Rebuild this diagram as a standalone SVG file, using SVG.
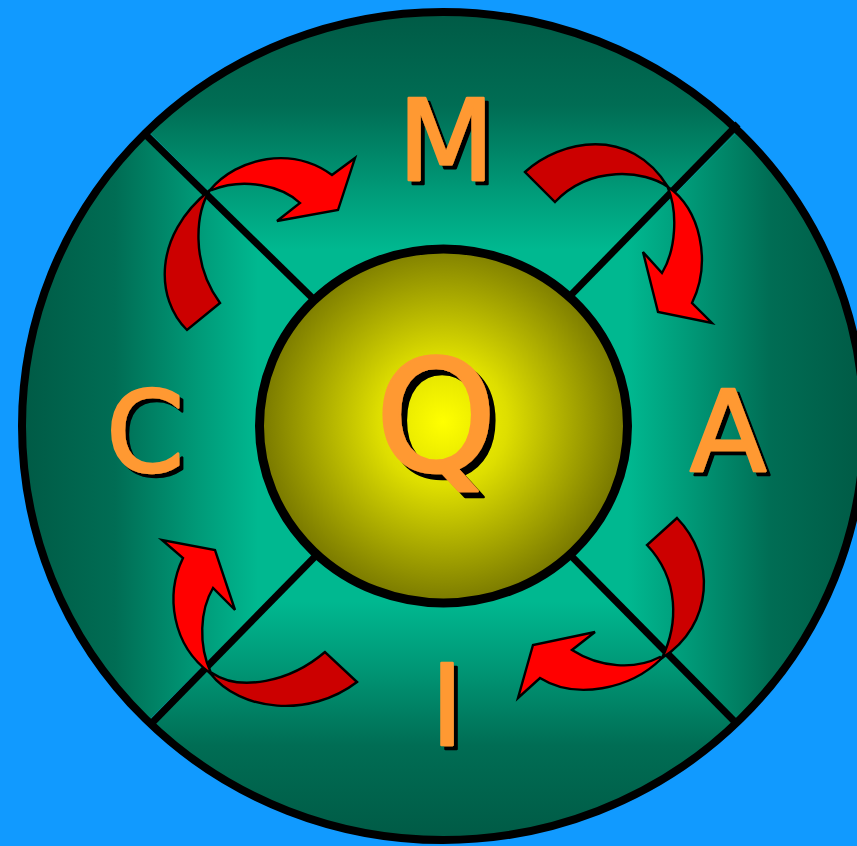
<svg xmlns="http://www.w3.org/2000/svg" width="857" height="846" viewBox="0 0 857 846">
<defs>
<style>
.lt{font-family:"DejaVu Sans",Verdana,sans-serif;font-size:112px;text-anchor:middle;stroke-linejoin:round;stroke-width:2.5;fill:#ff9933;stroke:#ff9933}
.ar{stroke:#000;stroke-width:2.4;stroke-linejoin:miter}
.dk{fill:#cc0000}
.br{fill:#ff0000}
.dv{stroke:#000;stroke-width:7;fill:none}
</style>
<filter id="sh4" x="-20%" y="-20%" width="140%" height="140%">
<feOffset in="SourceAlpha" dx="4" dy="4" result="o"/>
<feMerge><feMergeNode in="o"/><feMergeNode in="SourceGraphic"/></feMerge>
</filter>
<filter id="sh6" x="-20%" y="-20%" width="140%" height="140%">
<feOffset in="SourceAlpha" dx="6" dy="6" result="o"/>
<feMerge><feMergeNode in="o"/><feMergeNode in="SourceGraphic"/></feMerge>
</filter>
<clipPath id="ringClip"><ellipse cx="443" cy="426" rx="421" ry="414"/></clipPath>
<linearGradient id="gT" gradientUnits="userSpaceOnUse" x1="0" y1="10" x2="0" y2="250">
<stop offset="0" stop-color="#005a45"/><stop offset="0.4" stop-color="#006d54"/><stop offset="0.75" stop-color="#009a78"/><stop offset="1" stop-color="#00b890"/>
</linearGradient>
<linearGradient id="gB" gradientUnits="userSpaceOnUse" x1="0" y1="842" x2="0" y2="602">
<stop offset="0" stop-color="#005a45"/><stop offset="0.4" stop-color="#006d54"/><stop offset="0.75" stop-color="#009a78"/><stop offset="1" stop-color="#00b890"/>
</linearGradient>
<linearGradient id="gL" gradientUnits="userSpaceOnUse" x1="20" y1="0" x2="258" y2="0">
<stop offset="0" stop-color="#005a45"/><stop offset="0.4" stop-color="#006d54"/><stop offset="0.75" stop-color="#009a78"/><stop offset="1" stop-color="#00b890"/>
</linearGradient>
<linearGradient id="gR" gradientUnits="userSpaceOnUse" x1="866" y1="0" x2="628" y2="0">
<stop offset="0" stop-color="#005a45"/><stop offset="0.4" stop-color="#006d54"/><stop offset="0.75" stop-color="#009a78"/><stop offset="1" stop-color="#00b890"/>
</linearGradient>
<radialGradient id="gY" gradientUnits="userSpaceOnUse" cx="443" cy="422" r="184">
<stop offset="0" stop-color="#ffff00"/><stop offset="0.35" stop-color="#dede00"/><stop offset="1" stop-color="#777700"/>
</radialGradient>
</defs>
<rect width="857" height="846" fill="#119aff"/>
<g id="ring">
<g clip-path="url(#ringClip)">
<polygon points="443,426 -157,-174 1043,-174" fill="url(#gT)"/>
<polygon points="443,426 -157,1026 1043,1026" fill="url(#gB)"/>
<polygon points="443,426 -157,-174 -157,1026" fill="url(#gL)"/>
<polygon points="443,426 1043,-174 1043,1026" fill="url(#gR)"/>
</g>
<ellipse cx="443" cy="426" rx="421" ry="414" fill="none" stroke="#000" stroke-width="8"/>
</g>
<g id="dividers">
<line class="dv" x1="147" y1="136" x2="443" y2="426"/>
<line class="dv" x1="738" y1="124" x2="443" y2="426"/>
<line class="dv" x1="150" y1="725" x2="443" y2="426"/>
<line class="dv" x1="738" y1="725" x2="443" y2="426"/>
</g>
<g id="hub">
<ellipse cx="443.5" cy="426" rx="184" ry="177" fill="url(#gY)" stroke="#000" stroke-width="9"/>
</g>
<g id="connectors">
<g id="arrow-C-M">
<path class="ar dk" d="M187,330 C156,300 152,236 210,190 C196,212 190,262 220,303 Z"/>
<path class="ar br" d="M210,190 C238,157 292,146 332,175 L355,158 L338,210 L277,221 L300,203 C282,186 244,177 212,190 Z"/>
</g>
<g id="arrow-M-A">
<path class="ar dk" d="M525,172 C560,140 630,125 668,187 C645,170 590,165 555,202 Z"/>
<path class="ar br" d="M668,187 C700,208 712,262 692,303 L712,323 L658,312 L643,252 L662,273 C676,250 678,212 668,188 Z"/>
</g>
<g id="arrow-A-I">
<path class="ar dk" d="M677,518 C716,558 714,625 662,658 C678,625 680,580 647,545 Z"/>
<path class="ar br" d="M662,658 C630,690 575,700 540,678 L518,698 L533,645 L595,632 L572,650 C600,668 635,670 660,657 Z"/>
</g>
<g id="arrow-I-C">
<path class="ar dk" d="M210,673 C240,712 310,718 357,682 L325,652 C290,682 240,692 212,673 Z"/>
<path class="ar br" d="M210,673 C172,645 165,595 183,558 L162,540 L215,550 L235,610 L213,588 C200,610 198,645 211,673 Z"/>
</g>
</g>
<g id="label-M"><text class="lt" x="446" y="180" filter="url(#sh4)">M</text></g>
<g id="label-A"><text class="lt" x="728" y="471" filter="url(#sh4)">A</text></g>
<g id="label-C"><text class="lt" x="145" y="471" filter="url(#sh4)">C</text></g>
<g id="label-I"><text class="lt" x="447" y="745" filter="url(#sh4)">I</text></g>
<g id="label-Q"><text class="lt" x="436" y="471" style="font-size:155px" filter="url(#sh6)">Q</text></g>
</svg>
